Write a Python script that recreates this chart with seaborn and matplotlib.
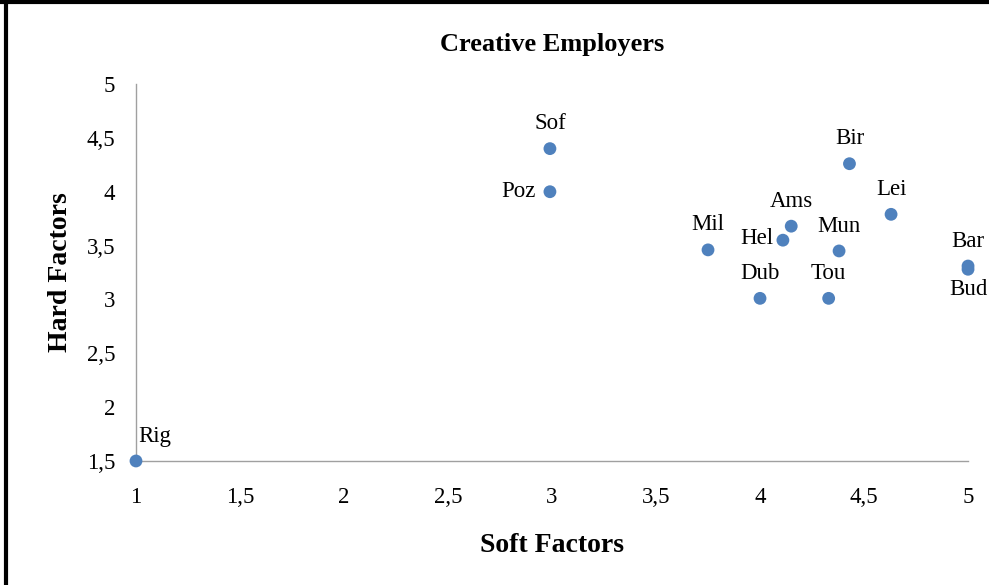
import matplotlib
matplotlib.use('Agg')
import matplotlib.pyplot as plt
import seaborn as sns
import pandas as pd
from matplotlib.lines import Line2D
from matplotlib.ticker import FuncFormatter

sns.set_theme(style='white')
plt.rcParams['font.family'] = ['Liberation Serif', 'DejaVu Serif']
plt.rcParams['text.color'] = 'black'
plt.rcParams['axes.labelcolor'] = 'black'

# Data
cities = ['Rig', 'Sof', 'Poz', 'Mil', 'Dub', 'Hel', 'Ams', 'Bir', 'Mun', 'Tou', 'Lei', 'Bar', 'Bud']
soft = [1.0, 2.99, 2.99, 3.75, 4.0, 4.11, 4.15, 4.43, 4.38, 4.33, 4.63, 5.0, 5.0]
hard = [1.5, 4.40, 4.0, 3.46, 3.01, 3.55, 3.68, 4.26, 3.45, 3.01, 3.79, 3.31, 3.28]

# label placement (offset in points, alignment)
label_pos = {
    'Rig': ((2, 14), 'left', 'baseline'),
    'Sof': ((0, 14), 'center', 'baseline'),
    'Poz': ((-10, 0), 'right', 'center'),
    'Mil': ((0, 14), 'center', 'baseline'),
    'Dub': ((0, 14), 'center', 'baseline'),
    'Hel': ((-7, 1), 'right', 'center'),
    'Ams': ((0, 14), 'center', 'baseline'),
    'Bir': ((0, 14), 'center', 'baseline'),
    'Mun': ((0, 14), 'center', 'baseline'),
    'Tou': ((0, 14), 'center', 'baseline'),
    'Lei': ((0, 14), 'center', 'baseline'),
    'Bar': ((0, 14), 'center', 'baseline'),
    'Bud': ((0, -7), 'center', 'top'),
}

df = pd.DataFrame({'city': cities, 'soft': soft, 'hard': hard})

fig = plt.figure(figsize=(9.89, 5.85), dpi=100)
ax = fig.add_axes([0.1375, 0.212, 0.8413, 0.6444])

sns.scatterplot(data=df, x='soft', y='hard', ax=ax, color='#4f81bd',
                s=85, edgecolor='none', clip_on=False, zorder=5)

for _, r in df.iterrows():
    off, ha, va = label_pos[r['city']]
    ax.annotate(r['city'], (r['soft'], r['hard']), xytext=off,
                textcoords='offset points', ha=ha, va=va, fontsize=16.5,
                color='black')

ax.set_xlim(1, 5)
ax.set_ylim(1.5, 5)
ax.set_xticks([1, 1.5, 2, 2.5, 3, 3.5, 4, 4.5, 5])
ax.set_yticks([1.5, 2, 2.5, 3, 3.5, 4, 4.5, 5])
fmt = FuncFormatter(lambda v, p: f'{v:g}'.replace('.', ','))
ax.xaxis.set_major_formatter(fmt)
ax.yaxis.set_major_formatter(fmt)

for side in ['top', 'right']:
    ax.spines[side].set_visible(False)
for side in ['left', 'bottom']:
    ax.spines[side].set_color('#a0a0a0')
    ax.spines[side].set_linewidth(1.0)
ax.tick_params(axis='both', which='major', direction='out', length=5,
               width=1.0, color='#a0a0a0', labelsize=16.5, labelcolor='black')
ax.tick_params(axis='x', pad=14)
ax.tick_params(axis='y', pad=10)

ax.set_xlabel('Soft Factors', fontsize=20, fontweight='bold', labelpad=18)
ax.set_ylabel('Hard Factors', fontsize=20, fontweight='bold', labelpad=10)
ax.set_title('Creative Employers', fontsize=19, fontweight='bold', pad=24,
             color='black')

# frame lines at top and left of the picture
fig.add_artist(Line2D([0, 1], [0.997, 0.997], transform=fig.transFigure,
                      color='black', linewidth=3))
fig.add_artist(Line2D([0.0065, 0.0065], [0, 1], transform=fig.transFigure,
                      color='black', linewidth=3))

fig.savefig('out.png', dpi=100)
